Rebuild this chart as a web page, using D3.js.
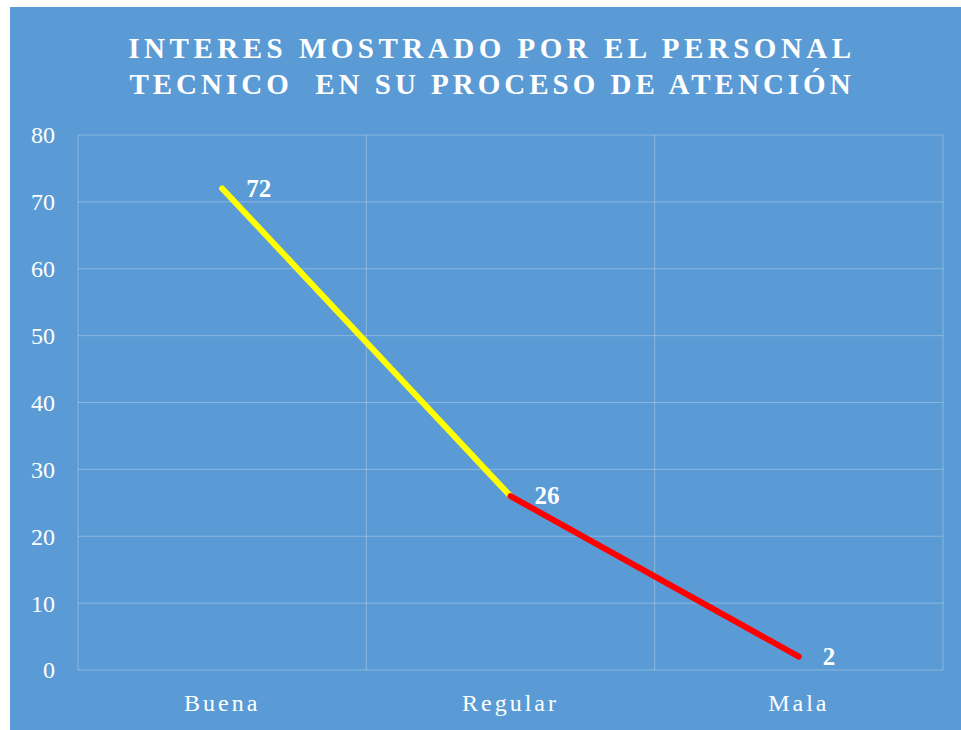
<!DOCTYPE html>
<html>
<head>
<meta charset="utf-8">
<script src="https://cdn.jsdelivr.net/npm/d3@7"></script>
<style>
  body { margin: 0; background: #fff; }
  text { font-family: "Liberation Serif", "Times New Roman", serif; fill: #fff; }
</style>
</head>
<body>
<div id="chart"></div>
<script>
const categories = ["Buena", "Regular", "Mala"]
const values = [72, 26, 2]
const yTicks = [0, 10, 20, 30, 40, 50, 60, 70, 80]
const segmentColors = ["#ffff00", "#ff0000"]
const titleLines = ["INTERES MOSTRADO POR EL PERSONAL", "TECNICO  EN SU PROCESO DE ATENCIÓN"]

const W = 961
const H = 730
const margin = { top: 135, right: 18, bottom: 60, left: 78 }

const svg = d3.select("#chart")
  .append("svg")
  .attr("width", W)
  .attr("height", H)

// chart background
svg.append("rect")
  .attr("x", 10).attr("y", 7)
  .attr("width", W - 10).attr("height", H - 7)
  .attr("fill", "#5b9bd5")

const x = d3.scaleBand()
  .domain(categories)
  .range([margin.left, W - margin.right])

const y = d3.scaleLinear()
  .domain([0, 80])
  .range([H - margin.bottom, margin.top])

const grid = "rgba(255,255,255,0.28)"

// horizontal grid
svg.append("g")
  .selectAll("line")
  .data(yTicks)
  .join("line")
  .attr("x1", margin.left)
  .attr("x2", W - margin.right)
  .attr("y1", d => y(d))
  .attr("y2", d => y(d))
  .attr("stroke", grid)
  .attr("stroke-width", 1)

// vertical grid at band edges
const edges = categories.map(c => x(c)).concat([x(categories[categories.length - 1]) + x.bandwidth()])
svg.append("g")
  .selectAll("line")
  .data(edges)
  .join("line")
  .attr("x1", d => d)
  .attr("x2", d => d)
  .attr("y1", y(80))
  .attr("y2", y(0))
  .attr("stroke", grid)
  .attr("stroke-width", 1)

// y axis labels
svg.append("g")
  .selectAll("text")
  .data(yTicks)
  .join("text")
  .attr("x", 55)
  .attr("y", d => y(d))
  .attr("dy", "0.35em")
  .attr("text-anchor", "end")
  .style("font-size", "24px")
  .text(d => d)

// x axis labels
svg.append("g")
  .selectAll("text")
  .data(categories)
  .join("text")
  .attr("x", d => x(d) + x.bandwidth() / 2)
  .attr("y", y(0) + 41)
  .attr("text-anchor", "middle")
  .style("font-size", "24px")
  .style("letter-spacing", "3px")
  .text(d => d)

// line segments, each with its own colour
const pts = categories.map((c, i) => [x(c) + x.bandwidth() / 2, y(values[i])])
svg.append("g")
  .selectAll("line")
  .data(d3.pairs(pts))
  .join("line")
  .attr("x1", d => d[0][0])
  .attr("y1", d => d[0][1])
  .attr("x2", d => d[1][0])
  .attr("y2", d => d[1][1])
  .attr("stroke", (d, i) => segmentColors[i])
  .attr("stroke-width", 6)
  .attr("stroke-linecap", "round")

// data labels
svg.append("g")
  .selectAll("text")
  .data(values)
  .join("text")
  .attr("x", (d, i) => pts[i][0] + 24)
  .attr("y", (d, i) => pts[i][1] + 8)
  .style("font-size", "25px")
  .style("font-weight", "bold")
  .text(d => d)

// title
svg.append("g")
  .selectAll("text")
  .data(titleLines)
  .join("text")
  .attr("x", 492)
  .attr("y", (d, i) => 58 + i * 36)
  .attr("text-anchor", "middle")
  .style("font-size", "29px")
  .style("font-weight", "bold")
  .style("letter-spacing", (d, i) => i === 0 ? "4.5px" : "4px")
  .style("white-space", "pre")
  .text(d => d)
</script>
</body>
</html>
